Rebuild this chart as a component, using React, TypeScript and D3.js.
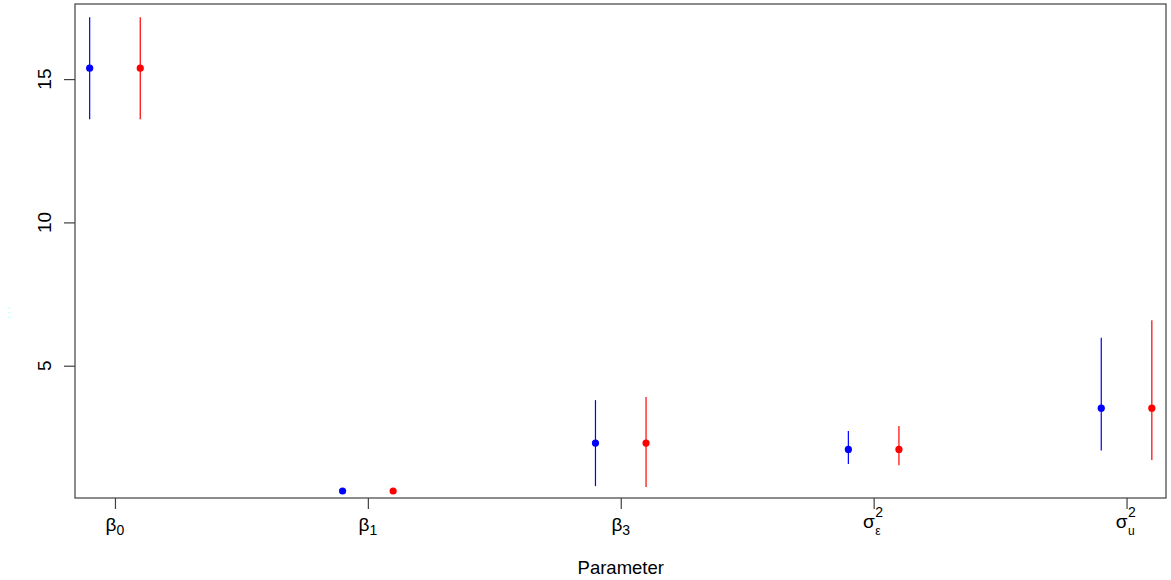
import React, { useEffect, useRef } from "react";
import * as d3 from "d3";

// parameter positions 1..5 along x
const params = [1, 2, 3, 4, 5];
const paramLabels = [
  { main: "β", sub: "0", sup: "" },
  { main: "β", sub: "1", sup: "" },
  { main: "β", sub: "3", sup: "" },
  { main: "σ", sub: "ε", sup: "2" },
  { main: "σ", sub: "u", sup: "2" },
];

// blue series (left of each tick)
const blueEst = [15.38, 0.63, 2.3, 2.08, 3.52];
const blueLo = [13.6, 0.6, 0.8, 1.57, 2.04];
const blueHi = [17.16, 0.66, 3.8, 2.72, 5.98];

// red series (right of each tick)
const redEst = [15.38, 0.63, 2.3, 2.08, 3.52];
const redLo = [13.6, 0.6, 0.77, 1.53, 1.71];
const redHi = [17.16, 0.66, 3.91, 2.9, 6.59];

const yTicks = [5, 10, 15];
const offset = 0.1;

const App = () => {
  const ref = useRef<SVGSVGElement | null>(null);

  useEffect(() => {
    const width = 1171;
    const height = 580;
    const margin = { top: 4, right: 5, bottom: 82, left: 75 };
    const font = "'Liberation Sans', Arial, sans-serif";

    const svg = d3.select(ref.current).attr("width", width).attr("height", height);
    svg.selectAll("*").remove();

    const x = d3.scaleLinear().domain([0.842, 5.156]).range([margin.left, width - margin.right]);
    const y = d3.scaleLinear().domain([0.385, 17.62]).range([height - margin.bottom, margin.top]);

    const series = [
      { color: "#0000ff", dx: -offset, est: blueEst, lo: blueLo, hi: blueHi },
      { color: "#ff0000", dx: offset, est: redEst, lo: redLo, hi: redHi },
    ];

    series.forEach((s) => {
      const rows = params.map((p, i) => ({ p, est: s.est[i], lo: s.lo[i], hi: s.hi[i] }));
      const g = svg.append("g");
      g.selectAll("line")
        .data(rows)
        .join("line")
        .attr("x1", (d) => x(d.p + s.dx))
        .attr("x2", (d) => x(d.p + s.dx))
        .attr("y1", (d) => y(d.lo))
        .attr("y2", (d) => y(d.hi))
        .attr("stroke", s.color)
        .attr("stroke-width", 1.2);
      g.selectAll("circle")
        .data(rows)
        .join("circle")
        .attr("cx", (d) => x(d.p + s.dx))
        .attr("cy", (d) => y(d.est))
        .attr("r", 3.6)
        .attr("fill", s.color);
    });

    // frame
    svg.append("rect")
      .attr("x", margin.left)
      .attr("y", margin.top)
      .attr("width", width - margin.left - margin.right)
      .attr("height", height - margin.top - margin.bottom)
      .attr("fill", "none")
      .attr("stroke", "#404040")
      .attr("stroke-width", 1.2);

    // y axis
    const yAxis = d3.axisLeft(y).tickValues(yTicks).tickSize(11).tickFormat(() => "");
    svg.append("g")
      .attr("transform", `translate(${margin.left},0)`)
      .call(yAxis)
      .call((g) => g.select(".domain").remove())
      .call((g) => g.selectAll("line").attr("stroke", "#404040").attr("stroke-width", 1.2));

    svg.append("g")
      .selectAll("text")
      .data(yTicks)
      .join("text")
      .attr("transform", (d) => `translate(51,${y(d)}) rotate(-90)`)
      .attr("text-anchor", "middle")
      .attr("font-family", font)
      .attr("font-size", 19)
      .attr("fill", "#000")
      .text((d) => d);

    // faint marks at the far left (light ylab remnant)
    svg.append("text")
      .attr("transform", `translate(16,${y(6.85)}) rotate(-90)`)
      .attr("text-anchor", "middle")
      .attr("font-family", font)
      .attr("font-size", 10)
      .attr("fill", "#b8ffff")
      .text("' ' '");

    // x axis ticks
    const xAxis = d3.axisBottom(x).tickValues(params).tickSize(11).tickFormat(() => "");
    svg.append("g")
      .attr("transform", `translate(0,${height - margin.bottom})`)
      .call(xAxis)
      .call((g) => g.select(".domain").remove())
      .call((g) => g.selectAll("line").attr("stroke", "#404040").attr("stroke-width", 1.2));

    // x tick labels (plotmath style)
    const lab = svg.append("g").attr("font-family", font).attr("fill", "#000");
    params.forEach((p, i) => {
      const l = paramLabels[i];
      const cx = x(p);
      if (!l.sup) {
        const t = lab.append("text").attr("x", cx).attr("y", 531).attr("text-anchor", "middle").attr("font-size", 19);
        t.append("tspan").text(l.main);
        t.append("tspan").attr("font-size", 14).attr("dy", 4).text(l.sub);
      } else {
        lab.append("text")
          .attr("x", cx + 1)
          .attr("y", 528)
          .attr("text-anchor", "end")
          .attr("font-size", 19)
          .text(l.main);
        lab.append("text")
          .attr("x", cx + 1.5)
          .attr("y", 517)
          .attr("font-size", 14)
          .text(l.sup);
        lab.append("text")
          .attr("x", cx + 1.5)
          .attr("y", 535)
          .attr("font-size", 12)
          .text(l.sub);
      }
    });

    // axis title
    svg.append("text")
      .attr("x", x(3))
      .attr("y", 574)
      .attr("text-anchor", "middle")
      .attr("font-family", font)
      .attr("font-size", 18.5)
      .attr("fill", "#000")
      .text("Parameter");
  }, []);

  return (
    <div style={{ position: "absolute", left: 0, top: 0 }}>
      <svg ref={ref} style={{ display: "block" }}></svg>
    </div>
  );
};

export default App;
